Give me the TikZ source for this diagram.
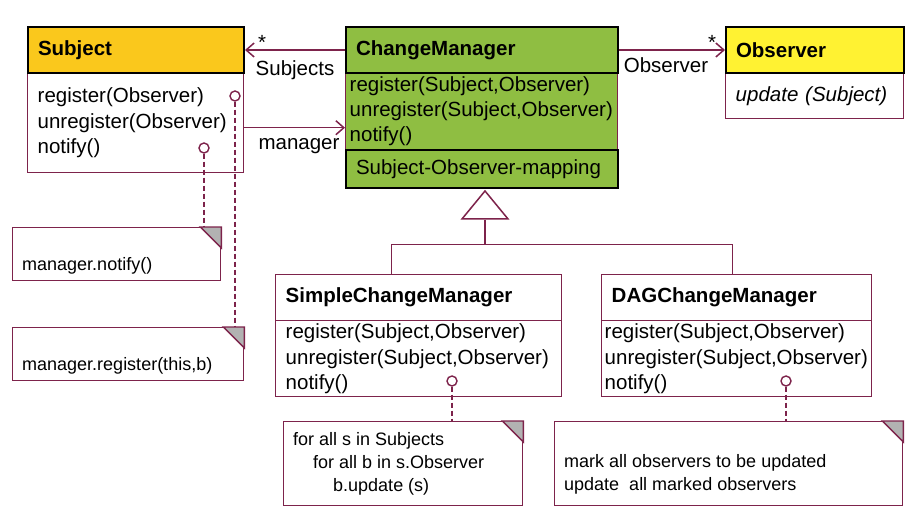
\documentclass[tikz,border=0pt]{standalone}
\usepackage{fontspec}
\setmainfont{Liberation Sans}
\usetikzlibrary{positioning, arrows.meta, shapes.geometric, calc}

\definecolor{umlred}{RGB}{125,35,75}
\definecolor{subjfill}{RGB}{250,200,28}
\definecolor{cmfill}{RGB}{143,190,66}
\definecolor{obsfill}{RGB}{255,242,50}
\definecolor{foldgray}{RGB}{178,178,178}
\newcommand{\clsfont}{\fontsize{20.5}{25.5}\selectfont}
\newcommand{\notefont}{\fontsize{18}{23}\selectfont}

\begin{document}
\begin{tikzpicture}[x=1pt, y=-1pt,
    hdrbox/.style={rectangle, draw=black, line width=2pt, anchor=north west, inner xsep=10pt,
                   inner ysep=0pt, minimum height=46pt, align=left, font=\clsfont\bfseries},
    opsbox/.style={rectangle, draw=umlred, line width=1.4pt, fill=white, anchor=north west,
                   inner ysep=0pt, align=left, font=\clsfont},
    notebox/.style={rectangle, draw=umlred, line width=1.4pt, fill=white, anchor=north west, inner sep=0pt},
    notetext/.style={anchor=west, align=left, font=\notefont, inner sep=0pt},
    pin/.style={circle, draw=umlred, line width=1.4pt, fill=white, minimum size=10pt, inner sep=0pt},
    notelink/.style={draw=umlred, line width=1.4pt, dash pattern=on 5pt off 3pt},
    assoc/.style={draw=umlred, line width=1.5pt, -{Straight Barb[length=8pt, width=14pt]}},
    genline/.style={draw=umlred, line width=1.5pt},
    lbl/.style={font=\clsfont, inner sep=0pt, anchor=base}
]
    \useasboundingbox (0,0) rectangle (912,511);

    % Subject
    \node[opsbox, inner xsep=10pt, text width=196pt, minimum height=100pt] (subjops) at (27,72)
        {register(Observer)\\unregister(Observer)\\notify()};
    \node[hdrbox, fill=subjfill, text width=196pt] (subj) at (27,26) {Subject};

    % ChangeManager
    \node[opsbox, fill=cmfill, inner xsep=4pt, text width=264pt, minimum height=77pt] (cmops) at (345,72)
        {register(Subject,Observer)\\unregister(Subject,Observer)\\notify()};
    \node[hdrbox, fill=cmfill, text width=252pt, minimum height=38pt, font=\clsfont] (cmmap) at (345,149)
        {Subject-Observer-mapping};
    \node[hdrbox, fill=cmfill, text width=252pt] (cm) at (345,26) {ChangeManager};

    % Observer
    \node[opsbox, inner xsep=10pt, text width=158pt, minimum height=46pt, font=\clsfont\itshape] (obsops) at (725,72)
        {update (Subject)};
    \node[hdrbox, fill=obsfill, text width=158pt] (obs) at (725,26) {Observer};

    % SimpleChangeManager
    \node[opsbox, inner xsep=10pt, text width=266pt, minimum height=76pt] (scmops) at (275,320)
        {register(Subject,Observer)\\unregister(Subject,Observer)\\notify()};
    \node[hdrbox, draw=umlred, line width=1.4pt, fill=white, text width=266pt] (scm) at (275,274)
        {SimpleChangeManager};

    % DAGChangeManager
    \node[opsbox, inner xsep=3pt, text width=264pt, minimum height=76pt] (dagops) at (601,320)
        {register(Subject,Observer)\\unregister(Subject,Observer)\\notify()};
    \node[hdrbox, draw=umlred, line width=1.4pt, fill=white, text width=250pt] (dag) at (601,274)
        {DAGChangeManager};

    % Notes
    \node[notebox, minimum width=208pt, minimum height=53pt] (n1) at (12,227) {};
    \node[notebox, minimum width=231pt, minimum height=53pt] (n2) at (12,327) {};
    \node[notebox, minimum width=239pt, minimum height=84pt] (n3) at (283,421) {};
    \node[notebox, minimum width=348pt, minimum height=84pt] (n4) at (554,421) {};
    \foreach \n in {n1,n2,n3,n4}
        \filldraw[fill=foldgray, draw=umlred, line width=1.4pt]
            ($(\n.north east)+(-21,0)$) -- (\n.north east) -- ($(\n.north east)+(0,21)$) -- cycle;

    \node[notetext] (t1) at (22,266) {manager.notify()};
    \node[notetext] (t2) at (22,366) {manager.register(this,b)};
    \node[notetext] (t3) at (293,464)
        {for all s in Subjects\\\hspace*{20pt}for all b in s.Observer\\\hspace*{40pt}b.update (s)};
    \node[notetext] (t4) at (564,474)
        {mark all observers to be updated\\update\ \ all marked observers};

    % Note anchors
    \node[pin] (c1) at (235,96) {};
    \node[pin] (c2) at (204,148) {};
    \node[pin] (c3) at (452,381) {};
    \node[pin] (c4) at (786,381) {};
    \draw[notelink] (c1.south) -- (c1.south |- n2.north);
    \draw[notelink] (c2.south) -- (c2.south |- n1.north);
    \draw[notelink] (c3.south) -- (c3.south |- n3.north);
    \draw[notelink] (c4.south) -- (c4.south |- n4.north);

    % Associations
    \draw[assoc] (cm.west) -- (subj.east);
    \node[lbl] (star1) at (262,50) {*};
    \node[lbl] (lsubj) at (295,75) {Subjects};
    \draw[assoc] ([yshift=-5pt]subjops.east) -- ([yshift=-5pt]subjops.east -| cmops.west);
    \node[lbl] (lman) at (299,149) {manager};
    \draw[assoc] (cm.east) -- (obs.west);
    \node[lbl] (star2) at (712,50) {*};
    \node[lbl] (lobs) at (666,73) {Observer};

    % Generalization
    \node[isosceles triangle, shape border rotate=90, isosceles triangle stretches, draw=umlred,
          line width=1.5pt, fill=white, minimum height=28pt, minimum width=46pt, inner sep=0pt,
          anchor=apex] (gentri) at ([xshift=3pt]cmmap.south) {};
    \coordinate (fork) at ($(gentri.lower side)+(0,25)$);
    \draw[genline] (gentri.lower side) -- (fork);
    \draw[genline] ([xshift=-27pt]scm.north) |- (fork) -| ([xshift=-4pt]dag.north);

\end{tikzpicture}
\end{document}
